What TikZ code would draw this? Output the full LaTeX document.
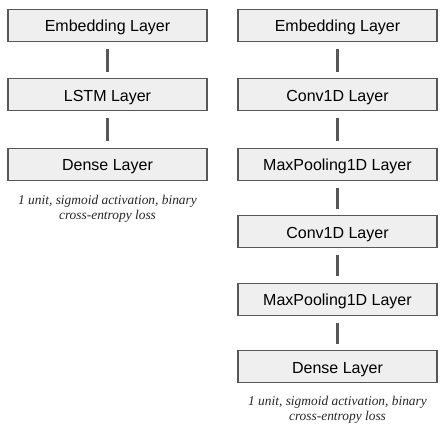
\documentclass[tikz,border=0pt]{standalone}
\usepackage{fontspec}
\setmainfont{Liberation Serif}
\newfontfamily\layerfont{Liberation Sans}
\usetikzlibrary{positioning}
\definecolor{layerfill}{HTML}{EFEFEF}
\definecolor{layerline}{HTML}{575757}
\tikzset{
  layer/.style={draw=layerline, line width=1.2pt, fill=layerfill, outer sep=0pt, minimum width=199pt, minimum height=32pt, text height=13pt, text depth=0pt, font=\layerfont\fontsize{16}{18}\selectfont},
  link/.style={line width=3pt, layerline, shorten <=7.5pt, shorten >=7pt},
  note/.style={align=center, inner sep=0pt, text=black!85, font=\itshape\fontsize{13.4}{15}\selectfont}
}

\begin{document}
\begin{tikzpicture}[node distance=37.5pt]
    \useasboundingbox (0,0) rectangle (444pt,-431pt);

    % LSTM model
    \node[layer] (embL) at (107.5pt,-25.3pt) {Embedding Layer};
    \node[layer, below=of embL] (lstm) {LSTM Layer};
    \node[layer, below=of lstm] (denseL) {Dense Layer};

    % CNN model
    \node[layer] (embC) at (337.5pt,-25.3pt) {Embedding Layer};
    \node[layer, below=of embC] (conv1) {Conv1D Layer};
    \node[layer, below=of conv1] (pool1) {MaxPooling1D Layer};
    \node[layer, below=35.5pt of pool1] (conv2) {Conv1D Layer};
    \node[layer, below=35.5pt of conv2] (pool2) {MaxPooling1D Layer};
    \node[layer, below=35.5pt of pool2] (denseC) {Dense Layer};

    \draw[link] (embL) -- (lstm);
    \draw[link] (lstm) -- (denseL);

    \draw[link] (embC) -- (conv1);
    \draw[link] (conv1) -- (pool1);
    \draw[link] (pool1) -- (conv2);
    \draw[link] (conv2) -- (pool2);
    \draw[link] (pool2) -- (denseC);

    \node[note, below=14.5pt of denseL] (noteL) {1 unit, sigmoid activation, binary\\cross-entropy loss};
    \node[note, below=13pt of denseC] (noteC) {1 unit, sigmoid activation, binary\\cross-entropy loss};
\end{tikzpicture}
\end{document}
